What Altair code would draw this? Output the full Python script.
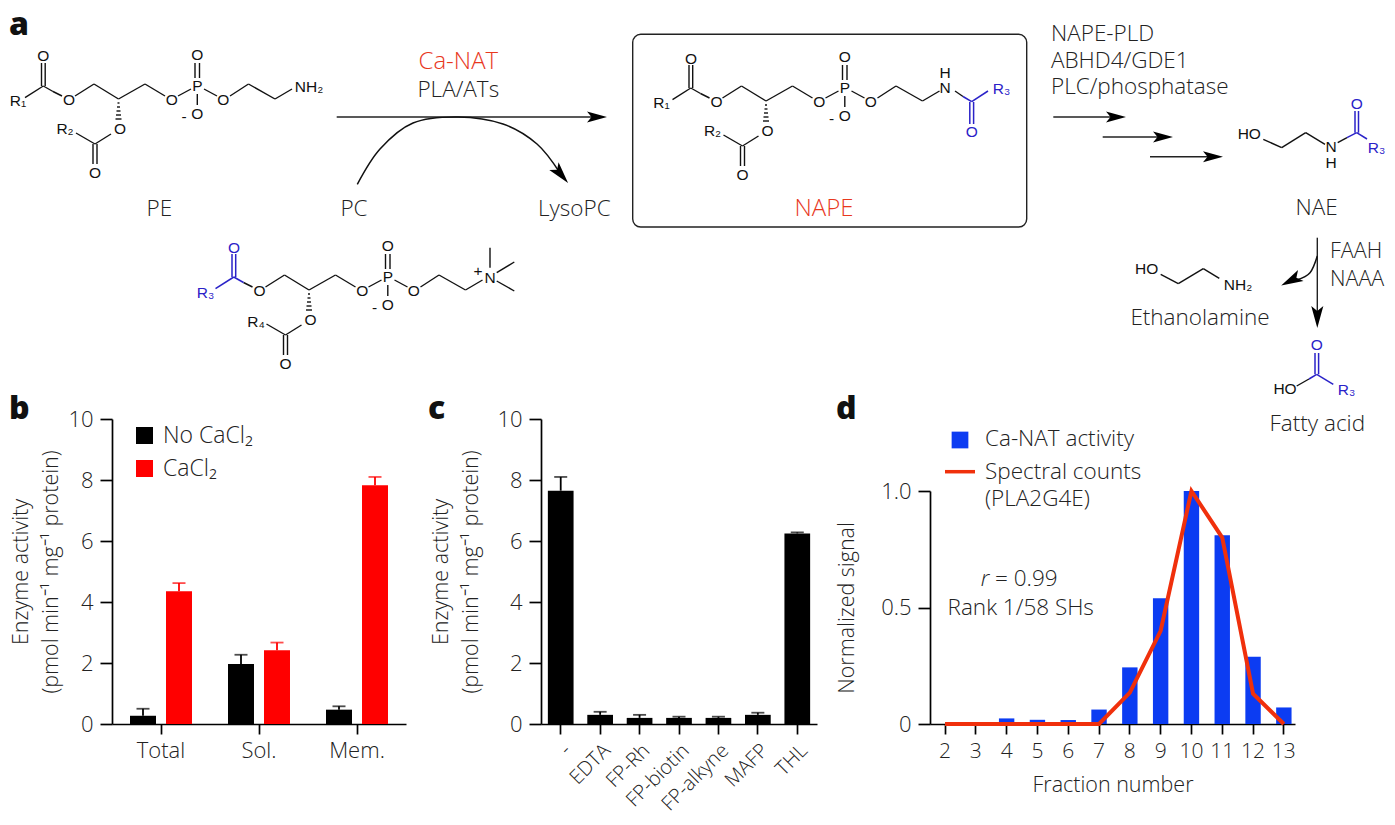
import altair as alt
import pandas as pd

SANS = "Open Sans"
CHEM = "Liberation Sans"
BLACK, BLUE, RED, ORANGE = "#111111", "#2a22c8", "#ff0000", "#e8381e"
BAR_BLUE, LINE_RED, INK = "#0c3cf2", "#f0300c", "#222222"

# ---------------- panel b
b_groups = ["Total", "Sol.", "Mem."]
b_conditions = ["No CaCl₂", "CaCl₂"]
b_none = [0.27, 1.97, 0.47]
b_none_err = [0.50, 2.27, 0.58]
b_ca = [4.35, 2.42, 7.83]
b_ca_err = [4.62, 2.67, 8.10]

# ---------------- panel c
c_labels = ["-", "EDTA", "FP-Rh", "FP-biotin", "FP-alkyne", "MAFP", "THL"]
c_values = [7.65, 0.30, 0.20, 0.20, 0.20, 0.30, 6.25]
c_err = [8.10, 0.40, 0.30, 0.24, 0.24, 0.37, 6.28]

# ---------------- panel d
d_fractions = [2, 3, 4, 5, 6, 7, 8, 9, 10, 11, 12, 13]
d_activity = [0, 0, 0.024, 0.018, 0.017, 0.062, 0.243, 0.54, 1.0, 0.81, 0.289, 0.071]
d_counts = [0, 0, 0, 0, 0, 0, 0.135, 0.40, 1.0, 0.80, 0.13, 0]

# ---------------- scheme a (positions in figure units)
acyl_bonds = [(25, 96.7, 43.3, 85), (41.5, 85, 41.5, 62), (45.2, 85, 45.2, 62), (43.3, 85, 53, 90.5)]
core_bonds = [
    (53, 90.5, 62, 95), (75, 95, 94, 83), (94, 83, 118.5, 98), (118.5, 98, 145, 83), (145, 83, 165, 95),
    (178, 95, 191, 88), (195, 77, 195, 62), (199.5, 77, 199.5, 62), (197.3, 93, 197.3, 104), (204, 88, 217, 95),
    (230, 95, 248.5, 83), (248.5, 83, 275, 98), (275, 98, 292, 88),
    (111, 133, 95, 143), (93, 143, 93, 163), (97, 143, 97, 163), (95, 143, 76, 132),
    (117.5, 102, 119.5, 102), (117, 106, 120, 106), (116.5, 110, 120.5, 110), (116, 114, 121, 114), (115.5, 118, 121.5, 118),
]
core_atoms = [("O", 69, 99), ("O", 171.7, 99), ("P", 197.3, 85), ("O", 197.3, 54.3), ("O", 197.3, 113),
              ("-", 184, 115.5), ("O", 223.3, 99), ("O", 120, 128), ("O", 95, 172)]

nape_shift = (647.5, 2)
pc_shift = (190.5, 191)

black_bonds = (
    acyl_bonds + core_bonds
    + [(a + nape_shift[0], b + nape_shift[1], c + nape_shift[0], d + nape_shift[1]) for a, b, c, d in acyl_bonds + core_bonds]
    + [(a + pc_shift[0], b + pc_shift[1], c + pc_shift[0], d + pc_shift[1]) for a, b, c, d in core_bonds]
    + [(490, 246.7, 490, 266.7), (496.7, 271.7, 514.3, 261), (496.7, 280, 514.3, 290),
       (955, 90, 963, 95.5),
       (1263.3, 138.3, 1281.7, 146.7), (1281.7, 146.7, 1305.7, 131.7), (1305.7, 131.7, 1325, 143.3), (1337.7, 141.7, 1347, 136.7),
       (1160.7, 273.3, 1178.3, 282.7), (1178.3, 282.7, 1203.3, 267.7), (1203.3, 267.7, 1219.3, 277.3),
       (1296.7, 385, 1309, 378)]
)
blue_bonds = (
    [(a + pc_shift[0], b + pc_shift[1], c + pc_shift[0], d + pc_shift[1]) for a, b, c, d in acyl_bonds]
    + [(963, 95.5, 971.7, 100.7), (971.7, 100.7, 988, 90), (969.8, 101, 969.8, 123), (973.6, 101, 973.6, 123),
       (1347, 136.7, 1356.7, 131.7), (1356.7, 131.7, 1367, 138), (1355, 131.7, 1355, 110), (1358.5, 131.7, 1358.5, 110),
       (1309, 378, 1316.7, 373.3), (1316.7, 373.3, 1333.3, 383.3), (1315, 373.3, 1315, 352), (1318.6, 373.3, 1318.6, 352)]
)
arrow_lines = [(336.7, 116, 600, 116), (1053.3, 116, 1120, 116), (1102.7, 136, 1166, 136), (1150, 155.7, 1216, 155.7), (1317.3, 236.7, 1317.3, 320)]
arrow_heads = [(597, 116, 0, 400), (1116, 116, 0, 400), (1163, 136, 0, 400), (1213, 155.7, 0, 400), (1317.3, 316, 90, 484),
               (561, 173.5, 50, 484), (1291, 279.5, 153, 484)]
curves = [
    ("pc", 357.3, 183.3), ("pc", 380, 148), ("pc", 413, 122), ("pc", 458, 116), ("pc", 503, 123), ("pc", 537, 143), ("pc", 560, 172),
    ("fa", 1317.3, 255), ("fa", 1310, 271.7), ("fa", 1296.7, 279),
]
box = (632.7, 33.3, 1026.7, 226)

chem_labels = (
    [(t, x, y, BLACK) for t, x, y in core_atoms]
    + [(t, x + nape_shift[0], y + nape_shift[1], BLACK) for t, x, y in core_atoms]
    + [(t, x + pc_shift[0], y + pc_shift[1], BLACK) for t, x, y in core_atoms]
    + [("O", 43.3, 55, BLACK), ("R₁", 18, 100, BLACK), ("R₂", 65, 128, BLACK), ("NH₂", 309, 86, BLACK),
       ("O", 691, 57.5, BLACK), ("R₁", 661.5, 102, BLACK), ("R₂", 712.5, 130, BLACK),
       ("N", 945, 86.7, BLACK), ("H", 945, 71.7, BLACK), ("R₃", 1001.5, 88, BLUE), ("O", 971.7, 131, BLUE),
       ("O", 234, 247, BLUE), ("R₃", 205.5, 291.5, BLUE), ("R₄", 256, 320.5, BLACK), ("N", 490, 276.7, BLACK), ("+", 478, 269.5, BLACK),
       ("HO", 1249.3, 133.3, BLACK), ("N", 1331, 146, BLACK), ("H", 1331, 161.7, BLACK), ("O", 1356.7, 103.3, BLUE), ("R₃", 1376.5, 147, BLUE),
       ("HO", 1146.7, 268.3, BLACK), ("NH₂", 1238, 284.3, BLACK),
       ("O", 1316.7, 344.3, BLUE), ("HO", 1285, 388.3, BLACK), ("R₃", 1346.5, 389, BLUE)]
)
caption_labels = [
    ("PE", 159.3, 208.3, INK), ("PLA/ATs", 458.3, 89, INK), ("PC", 354, 207.7, INK),
    ("LysoPC", 574.3, 207.7, INK), ("NAE", 1316.7, 207.3, INK),
    ("Ethanolamine", 1200, 316.7, INK), ("Fatty acid", 1317.3, 423.3, INK),
    ("Rank 1/58 SHs", 1020.7, 606.7, INK),
]
red_labels = [("Ca-NAT", 458.3, 60.7, ORANGE), ("NAPE", 824, 207.7, ORANGE)]
left_labels = [
    ("NAPE-PLD", 1051, 33.3, INK), ("ABHD4/GDE1", 1051, 60, INK), ("PLC/phosphatase", 1051, 86, INK),
    ("Ca-NAT activity", 985, 438, INK), ("Spectral counts", 985, 470.7, INK), ("(PLA2G4E)", 985, 498, INK),
    ("= 0.99", 995, 578, INK),
]
enzyme_labels = [("FAAH", 1330, 251, INK), ("NAAA", 1330, 279, INK)]
panel_letters = [("a", 9, 23.5), ("b", 9, 408), ("c", 428, 408), ("d", 836, 408)]
legend_square = [(960, 439)]
legend_line = [(945, 470.7, 975, 470.7)]

# ---------------- layout of the figure
X0, Y0 = 112, 8
SCHEME_W, SCHEME_H = 1270, 372
xs = alt.Scale(domain=[X0, X0 + SCHEME_W], range=[0, SCHEME_W], nice=False, zero=False)
ys = alt.Scale(domain=[Y0, Y0 + SCHEME_H], range=[0, SCHEME_H], nice=False, zero=False)


def segs(rows):
    return pd.DataFrame(rows, columns=["x", "y", "x2", "y2"])


def X(f="x"):
    return alt.X(f"{f}:Q", scale=xs, axis=None, title=None)


def Y(f="y"):
    return alt.Y(f"{f}:Q", scale=ys, axis=None, title=None)


def rule_layer(rows, color, width):
    return alt.Chart(segs(rows)).mark_rule(color=color, strokeWidth=width).encode(
        x=X(), y=Y(), x2="x2:Q", y2="y2:Q")


def text_layer(rows, size, font=SANS, weight=300, align="center", style="normal"):
    cols = ["t", "x", "y", "c"] if len(rows[0]) == 4 else ["t", "x", "y"]
    df = pd.DataFrame(rows, columns=cols)
    if "c" not in df:
        df["c"] = BLACK
    return alt.Chart(df).mark_text(font=font, fontSize=size, fontWeight=weight, align=align,
                                   baseline="middle", fontStyle=style).encode(
        x=X(), y=Y(), text="t:N", color=alt.Color("c:N", scale=None))


arrow_path = "M 1 0 L -1 -0.55 L -0.55 0 L -1 0.55 Z"
heads = pd.DataFrame(arrow_heads, columns=["x", "y", "a", "s"])
curve_df = pd.DataFrame(curves, columns=["id", "x", "y"]).reset_index()
box_df = pd.DataFrame([box], columns=["x", "y", "x2", "y2"])

scheme = alt.layer(
    alt.Chart(box_df).mark_rect(cornerRadius=8, fillOpacity=0, stroke="#222222", strokeWidth=1.4).encode(
        x=X(), y=Y(), x2="x2:Q", y2="y2:Q"),
    rule_layer(black_bonds, "#111111", 1.4),
    rule_layer(blue_bonds, BLUE, 1.5),
    rule_layer(arrow_lines, "#222222", 1.4),
    alt.Chart(curve_df).mark_line(color="#111111", strokeWidth=1.5, interpolate="cardinal").encode(
        x=X(), y=Y(), detail="id:N", order="index:Q"),
    alt.Chart(heads).mark_point(shape=arrow_path, filled=True, color="#000000", opacity=1).encode(
        x=X(), y=Y(), angle=alt.Angle("a:Q", scale=None), size=alt.Size("s:Q", scale=None)),
    text_layer(chem_labels, 15.5, font=CHEM, weight=400),
    text_layer(caption_labels, 22.5),
    text_layer(red_labels, 24),
    text_layer(left_labels, 22.5, align="left"),
    text_layer(enzyme_labels, 21.5, align="left"),
    text_layer([("r", 985, 578, INK)], 22.5, align="center", style="italic"),
    text_layer(panel_letters, 32, weight=800, align="left"),
    alt.Chart(pd.DataFrame(legend_square, columns=["x", "y"])).mark_square(size=280, color=BAR_BLUE, opacity=1).encode(x=X(), y=Y()),
    rule_layer(legend_line, LINE_RED, 3.5),
).properties(width=SCHEME_W, height=SCHEME_H)

# ---------------- bars
AXIS = dict(labelFont=SANS, labelFontWeight=300, labelColor=INK, labelFontSize=22,
            titleFont=SANS, titleFontWeight=300, titleColor=INK, titleFontSize=21.5,
            domainColor="#000000", domainWidth=1.7, tickColor="#000000", tickWidth=1.7, grid=False)
Y_TITLE = ["Enzyme activity", "(pmol min⁻¹ mg⁻¹ protein)"]
y_axis_b = alt.Axis(values=[0, 2, 4, 6, 8, 10], tickSize=12, labelPadding=7, title=Y_TITLE, titleLineHeight=30,
                    titlePadding=5, **AXIS)
y_axis_c = alt.Axis(values=[0, 2, 4, 6, 8, 10], tickSize=12, labelPadding=7, title=Y_TITLE, titleLineHeight=30,
                    titlePadding=14, **AXIS)
y10 = alt.Scale(domain=[0, 10], nice=False)

b_df = pd.DataFrame({
    "group": b_groups * 2,
    "condition": [b_conditions[0]] * 3 + [b_conditions[1]] * 3,
    "value": b_none + b_ca,
    "upper": b_none_err + b_ca_err,
})
b_x = alt.X("group:N", sort=b_groups, scale=alt.Scale(paddingInner=0, paddingOuter=0), title=None,
            axis=alt.Axis(labelAngle=0, tickSize=10, labelPadding=6, **AXIS))
b_off = alt.XOffset("condition:N", sort=b_conditions, scale=alt.Scale(paddingInner=0.278, paddingOuter=0.5))
b_color = alt.Color("condition:N", sort=b_conditions,
                    scale=alt.Scale(domain=b_conditions, range=["#000000", RED]),
                    legend=alt.Legend(orient="none", legendX=21, legendY=5, title=None, symbolType="square",
                                      symbolSize=289, symbolStrokeWidth=0, symbolOpacity=1, labelFont=SANS, labelFontWeight=300,
                                      labelFontSize=23, labelColor=INK, rowPadding=9, labelOffset=7))
panel_b = alt.layer(
    alt.Chart(b_df).mark_rule(strokeWidth=1.8).encode(x=b_x, xOffset=b_off, y=alt.Y("value:Q", scale=y10, axis=y_axis_b), y2="upper:Q", color=b_color),
    alt.Chart(b_df).mark_tick(thickness=1.8, size=13, orient="horizontal").encode(x=b_x, xOffset=b_off, y=alt.Y("upper:Q", scale=y10, axis=y_axis_b), color=b_color),
    alt.Chart(b_df).mark_bar().encode(x=b_x, xOffset=b_off, y=alt.Y("value:Q", scale=y10, axis=y_axis_b), color=b_color),
).properties(width=294, height=305)

c_df = pd.DataFrame({"label": c_labels, "value": c_values, "upper": c_err})
c_x = alt.X("label:N", sort=c_labels, scale=alt.Scale(paddingInner=0.348, paddingOuter=0.174), title=None,
            axis=alt.Axis(labelAngle=315, tickSize=10, labelPadding=6, **{**AXIS, "labelFontSize": 20}))
panel_c = alt.layer(
    alt.Chart(c_df).mark_rule(strokeWidth=1.8, color="#000000").encode(x=c_x, y=alt.Y("value:Q", scale=y10, axis=y_axis_c), y2="upper:Q"),
    alt.Chart(c_df).mark_tick(thickness=1.8, size=13, orient="horizontal", color="#000000").encode(x=c_x, y=alt.Y("upper:Q", scale=y10, axis=y_axis_c)),
    alt.Chart(c_df).mark_bar(color="#000000").encode(x=c_x, y=alt.Y("value:Q", scale=y10, axis=y_axis_c)),
).properties(width=276, height=305)

d_df = pd.DataFrame({"fraction": d_fractions, "activity": d_activity, "counts": d_counts})
d_x = alt.X("fraction:O", sort=d_fractions, title="Fraction number",
            scale=alt.Scale(paddingInner=0.5, paddingOuter=0.175, align=0.68),
            axis=alt.Axis(labelAngle=0, tickSize=10, labelPadding=6, titlePadding=13, **{**AXIS, "labelFontSize": 21}))
d_y = alt.Scale(domain=[0, 1], range=[305, 72], nice=False)
d_axis = alt.Axis(values=[0, 0.5, 1], tickSize=12, labelPadding=7, title="Normalized signal", titlePadding=22,
                  labelExpr="datum.value === 0 ? '0' : format(datum.value, '.1f')", **AXIS)
panel_d = alt.layer(
    alt.Chart(d_df).mark_bar(color=BAR_BLUE).encode(x=d_x, y=alt.Y("activity:Q", scale=d_y, axis=d_axis)),
    alt.Chart(d_df).mark_line(color=LINE_RED, strokeWidth=4, clip=False).encode(x=d_x, y=alt.Y("counts:Q", scale=d_y, axis=d_axis)),
).properties(width=365, height=305)

row = alt.hconcat(panel_b, alt.hconcat(panel_c, panel_d, spacing=113, bounds="flush"), spacing=135, bounds="flush")
chart = alt.vconcat(scheme, row, spacing=38, bounds="flush").resolve_scale(color="independent").properties(padding=0, background="#ffffff").configure_view(stroke=None)

chart.save("out.html", embed_options={"renderer": "svg", "actions": False})
